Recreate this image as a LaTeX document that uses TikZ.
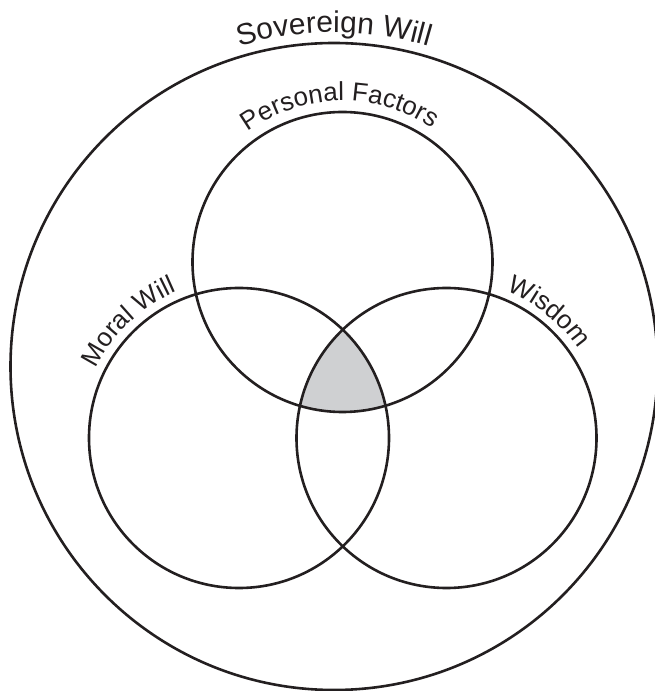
\documentclass[tikz,border=0pt]{standalone}
\usepackage{fontspec}
\setmainfont{Liberation Sans}
\usetikzlibrary{decorations.text}
\definecolor{ink}{RGB}{35,31,32}
\definecolor{venngray}{RGB}{207,208,210}
\tikzset{
  ring/.style={draw=ink, line width=2.6pt},
  arclabel/.style={decorate, decoration={text along path, text align=center, text color=ink, text={#1}}}
}
\begin{document}
\begin{tikzpicture}[x=1pt,y=1pt]
\useasboundingbox (0,0) rectangle (654,691);
\coordinate (sov) at (334,324.5);
\coordinate (pf) at (342.5,429);
\coordinate (mw) at (239,253);
\coordinate (wi) at (446.5,253);
% shaded common region
\begin{scope}
  \clip (pf) circle[radius=150];
  \clip (mw) circle[radius=150];
  \fill[venngray] (wi) circle[radius=150];
\end{scope}
% circles
\draw[ring] (sov) circle[radius=323.5];
\draw[ring] (pf) circle[radius=150];
\draw[ring] (mw) circle[radius=150];
\draw[ring] (wi) circle[radius=150];
% labels along arcs
\path[arclabel={|\fontsize{30}{36}\selectfont|Sovereign Will}]
  (sov) ++(140:334) arc[start angle=140, end angle=40, radius=334];
\path[arclabel={|\fontsize{26}{31}\selectfont|Personal Factors}]
  (pf) ++(162:161) arc[start angle=162, end angle=20, radius=161];
\path[arclabel={|\fontsize{26}{31}\selectfont|Moral Will}]
  (mw) ++(185:159) arc[start angle=185, end angle=82, radius=159];
\path[arclabel={|\fontsize{26}{31}\selectfont|Wisdom}]
  (wi) ++(100:159) arc[start angle=100, end angle=2, radius=159];
\end{tikzpicture}
\end{document}
